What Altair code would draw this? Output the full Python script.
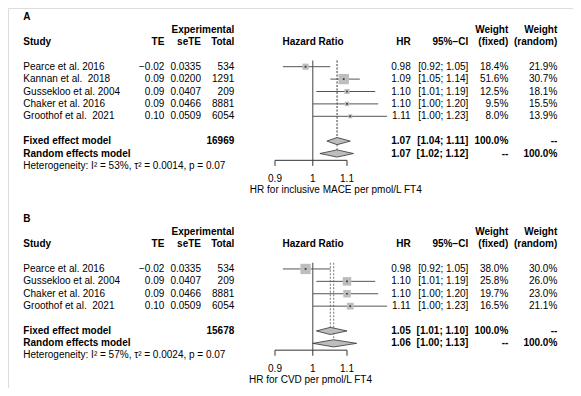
import altair as alt
import pandas as pd

# ---------------- data: panel A (inclusive MACE) ----------------
a_study = ["Pearce et al. 2016", "Kannan et al.\u00a0 2018", "Gussekloo et al. 2004",
           "Chaker et al. 2016", "Groothof et al.\u00a0 2021"]
a_te = [-0.02, 0.09, 0.09, 0.09, 0.10]
a_sete = ["0.0335", "0.0200", "0.0407", "0.0466", "0.0509"]
a_total = [534, 1291, 209, 8881, 6054]
a_hr = [0.98, 1.09, 1.10, 1.10, 1.11]
a_lo = [0.92, 1.05, 1.01, 1.00, 1.00]
a_hi = [1.05, 1.14, 1.19, 1.20, 1.23]
a_wfix = [18.4, 51.6, 12.5, 9.5, 8.0]
a_wran = [21.9, 30.7, 18.1, 15.5, 13.9]
a_fixed = [1.07, 1.04, 1.11]
a_random = [1.07, 1.02, 1.12]
a_total_n = 16969
a_het = "Heterogeneity: I\u00b2 = 53%, \u03c4\u00b2 = 0.0014, p = 0.07"
a_xlab = "HR for inclusive MACE per pmol/L FT4"

# ---------------- data: panel B (CVD) ----------------
b_study = ["Pearce et al. 2016", "Gussekloo et al. 2004", "Chaker et al. 2016",
           "Groothof et al.\u00a0 2021"]
b_te = [-0.02, 0.09, 0.09, 0.10]
b_sete = ["0.0335", "0.0407", "0.0466", "0.0509"]
b_total = [534, 209, 8881, 6054]
b_hr = [0.98, 1.10, 1.10, 1.11]
b_lo = [0.92, 1.01, 1.00, 1.00]
b_hi = [1.05, 1.19, 1.20, 1.23]
b_wfix = [38.0, 25.8, 19.7, 16.5]
b_wran = [30.0, 26.0, 23.0, 21.1]
b_fixed = [1.05, 1.01, 1.10]
b_random = [1.06, 1.00, 1.13]
b_total_n = 15678
b_het = "Heterogeneity: I\u00b2 = 57%, \u03c4\u00b2 = 0.0024, p = 0.07"
b_xlab = "HR for CVD per pmol/L FT4"

tick_values = [0.9, 1.0, 1.1]
tick_labels = ["0.9", "1", "1.1"]

# ---------------- layout ----------------
FONT = "Liberation Sans"
W, H = 565, 380
ROW_PX = 12.4
ROW0_PAGE = 66.7
y_top = 1 - (ROW0_PAGE - 8) / ROW_PX
y_bot = y_top + H / ROW_PX
yscale = alt.Scale(domain=[y_top, y_bot], reverse=True, nice=False, zero=False)
xscale = alt.Scale(type="log", domain=[0.9, 1.1], range=[267, 339], nice=False)

COLS = {
    "left": (15.3, "left"),
    "te": (156.3, "right"),
    "sete": (193.0, "right"),
    "total": (226.3, "right"),
    "hrhead": (305.0, "center"),
    "hr": (402.7, "right"),
    "ci": (460.3, "right"),
    "wf": (500.3, "right"),
    "wr": (549.3, "right"),
    "xlabA": (327.8, "center"),
    "xlabB": (302.5, "center"),
}


def fmt_te(v):
    return f"{v:.2f}".replace("-", "\u2212")


def fmt_ci(lo, hi):
    return f"[{lo:.2f}; {hi:.2f}]"


panels = [
    dict(key="A", off=0.0, study=a_study, te=a_te, sete=a_sete, total=a_total,
         hr=a_hr, lo=a_lo, hi=a_hi, wf=a_wfix, wr=a_wran, fixed=a_fixed,
         random=a_random, n=a_total_n, het=a_het, xlab=a_xlab),
    dict(key="B", off=16.31, study=b_study, te=b_te, sete=b_sete, total=b_total,
         hr=b_hr, lo=b_lo, hi=b_hi, wf=b_wfix, wr=b_wran, fixed=b_fixed,
         random=b_random, n=b_total_n, het=b_het, xlab=b_xlab),
]

texts, studies, diamonds, vlines, axes, ticks, ticklabs = [], [], [], [], [], [], []

for p in panels:
    o = p["off"]
    k = len(p["study"])
    rf = o + k + 2
    rr = o + k + 3
    ax = rr + 0.55

    def T(t, line, col, bold=False, fs=10):
        texts.append(dict(t=t, y=line, col=col, bold=bold, fs=fs))

    T(p["key"], o - 3, "left", True)
    T("Experimental", o - 2, "total", True)
    T("Weight", o - 2, "wf", True)
    T("Weight", o - 2, "wr", True)
    for t, c in [("Study", "left"), ("TE", "te"), ("seTE", "sete"), ("Total", "total"),
                 ("Hazard Ratio", "hrhead"), ("HR", "hr"), ("95%\u2212CI", "ci"),
                 ("(fixed)", "wf"), ("(random)", "wr")]:
        T(t, o - 1, c, True)
    for i in range(k):
        r = o + 1 + i
        T(p["study"][i], r, "left")
        T(fmt_te(p["te"][i]), r, "te")
        T(p["sete"][i], r, "sete")
        T(str(p["total"][i]), r, "total")
        T(f"{p['hr'][i]:.2f}", r, "hr")
        T(fmt_ci(p["lo"][i], p["hi"][i]), r, "ci")
        T(f"{p['wf'][i]:.1f}%", r, "wf")
        T(f"{p['wr'][i]:.1f}%", r, "wr")
        studies.append(dict(panel=p["key"], y=r, hr=p["hr"][i], lo=p["lo"][i],
                            hi=p["hi"][i], wf=p["wf"][i]))
    T("Fixed effect model", rf, "left", True)
    T(str(p["n"]), rf, "total", True)
    T(f"{p['fixed'][0]:.2f}", rf, "hr", True)
    T(fmt_ci(p["fixed"][1], p["fixed"][2]), rf, "ci", True)
    T("100.0%", rf, "wf", True)
    T("--", rf, "wr", True)
    T("Random effects model", rr, "left", True)
    T(f"{p['random'][0]:.2f}", rr, "hr", True)
    T(fmt_ci(p["random"][1], p["random"][2]), rr, "ci", True)
    T("--", rr, "wf", True)
    T("100.0%", rr, "wr", True)
    T(p["het"], rr + 0.97, "left", False, 10)
    T(p["xlab"], rr + 2.95, "xlab" + p["key"])

    for name, est, row in [("fixed", p["fixed"], rf), ("random", p["random"], rr)]:
        did = p["key"] + name
        # outline of the summary diamond: lower CI, estimate (top), upper CI, estimate (bottom)
        for kk, (hx, dy) in enumerate([(est[1], 0), (est[0], -0.29), (est[2], 0),
                                       (est[0], 0.29), (est[1], 0)]):
            diamonds.append(dict(did=did, k=kk, hx=hx, ya=row + dy))
        vlines.append(dict(kind="dot", x=est[0], y=o + 0.5, y2=row))
    vlines.append(dict(kind="solid", x=1.0, y=o + 0.5, y2=ax))
    axes.append(dict(x=tick_values[0], x2=tick_values[-1], y=ax))
    for v, lab in zip(tick_values, tick_labels):
        ticks.append(dict(v=v, y=ax, y2=ax + 0.45))
        ticklabs.append(dict(v=v, t=lab, y=rr + 2.05))

df_text = pd.DataFrame(texts)
df_s = pd.DataFrame(studies)
df_d = pd.DataFrame(diamonds)
df_v = pd.DataFrame(vlines)
df_ax = pd.DataFrame(axes)
df_t = pd.DataFrame(ticks)
df_tl = pd.DataFrame(ticklabs)


def Y(f="y"):
    return alt.Y(f + ":Q", scale=yscale, axis=None)


def X(f):
    return alt.X(f + ":Q", scale=xscale, axis=None)


layers = []

# reference lines
layers.append(alt.Chart(df_v[df_v.kind == "solid"]).mark_rule(color="#444", strokeWidth=1).encode(
    x=X("x"), y=Y(), y2="y2:Q"))
layers.append(alt.Chart(df_v[df_v.kind == "dot"]).mark_rule(
    color="#777", strokeWidth=1, strokeDash=[2, 1.5]).encode(x=X("x"), y=Y(), y2="y2:Q"))

# CI lines, squares, centre dots
layers.append(alt.Chart(df_s).mark_rule(color="#555", strokeWidth=1).encode(
    x=X("lo"), x2="hi:Q", y=Y()))
layers.append(alt.Chart(df_s).transform_joinaggregate(
    maxw="max(wf)", groupby=["panel"]).transform_calculate(
    rel="datum.wf / datum.maxw").mark_square(color="#bdbdbd", opacity=1, filled=True).encode(
    x=X("hr"), y=Y(),
    size=alt.Size("rel:Q", scale=alt.Scale(domain=[0, 1], range=[0, 106]), legend=None)))
layers.append(alt.Chart(df_s).mark_square(color="#333", size=3, opacity=1, filled=True).encode(
    x=X("hr"), y=Y()))

# diamonds (closed filled outline)
layers.append(alt.Chart(df_d).mark_line(
    fill="#bdbdbd", stroke="#333", strokeWidth=0.8, opacity=1, strokeJoin="miter").encode(
    x=X("hx"), y=Y("ya"), detail="did:N", order=alt.Order("k:Q")))

# x axes (drawn per panel)
layers.append(alt.Chart(df_ax).mark_rule(color="#333", strokeWidth=1).encode(
    x=X("x"), x2="x2:Q", y=Y()))
layers.append(alt.Chart(df_t).mark_rule(color="#333", strokeWidth=1).encode(
    x=X("v"), y=Y(), y2="y2:Q"))
layers.append(alt.Chart(df_tl).mark_text(
    font=FONT, fontSize=10, baseline="middle", align="center", color="black").encode(
    x=X("v"), y=Y(), text="t:N"))

# text columns
for (col, bold, fs), sub in df_text.groupby(["col", "bold", "fs"]):
    xpx, al = COLS[col]
    layers.append(alt.Chart(sub).mark_text(
        font=FONT, fontSize=float(fs), fontWeight="bold" if bold else "normal",
        align=al, baseline="middle", color="black").encode(
        x=alt.value(xpx), y=Y(), text="t:N"))

chart = alt.layer(*layers).properties(width=W, height=H, padding=0).configure_view(
    strokeWidth=0).configure(background="white")

chart.save("out.html", embed_options={"renderer": "svg", "actions": False})
